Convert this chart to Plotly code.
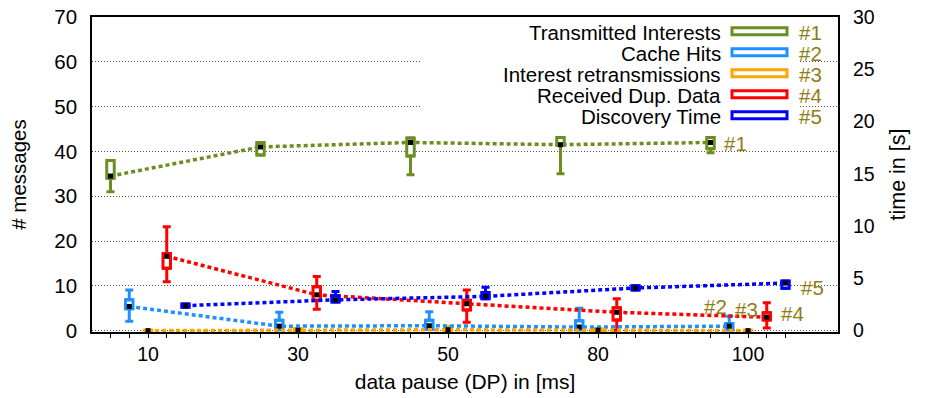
import plotly.graph_objects as go

# ---------------- data ----------------
dp_labels = ["10", "30", "50", "80", "100"]
series_names = ["Transmitted Interests", "Cache Hits", "Interest retransmissions",
                "Received Dup. Data", "Discovery Time"]
series_tags = ["#1", "#2", "#3", "#4", "#5"]
series_colors = ["#6b8e23", "#1e90ff", "#ffa500", "#ff0000", "#0000ff"]

# Transmitted Interests (# messages)
ti_mean = [34.5, 41.0, 42.0, 41.5, 42.0]
ti_box_lo = [34.0, 39.2, 39.0, 41.4, 40.6]
ti_box_hi = [38.0, 42.0, 43.0, 43.1, 43.1]
ti_wh_lo = [31.0, 39.2, 34.8, 35.0, 39.7]
ti_wh_hi = [38.0, 42.0, 43.0, 43.1, 43.1]

# Cache Hits (# messages)
ch_mean = [5.4, 1.0, 1.1, 0.8, 1.0]
ch_box_lo = [4.9, 0.2, 0.3, 0.2, 0.2]
ch_box_hi = [6.9, 2.3, 2.3, 2.2, 1.6]
ch_wh_lo = [2.1, 0.2, 0.3, 0.2, 0.2]
ch_wh_hi = [9.1, 4.1, 4.2, 5.0, 3.2]

# Interest retransmissions (# messages)
ir_mean = [0.0, 0.1, 0.2, 0.1, 0.0]
ir_box_lo = [0.0, 0.0, 0.0, 0.0, 0.0]
ir_box_hi = [0.1, 0.4, 0.9, 0.4, 0.1]
ir_wh_lo = [0.0, 0.0, 0.0, 0.0, 0.0]
ir_wh_hi = [0.1, 0.4, 0.9, 0.4, 0.1]

# Received Dup. Data (# messages)
rd_mean = [16.6, 8.0, 6.0, 4.1, 3.0]
rd_box_lo = [13.9, 6.8, 4.6, 2.4, 2.4]
rd_box_hi = [17.2, 9.8, 6.8, 5.1, 4.0]
rd_wh_lo = [10.9, 4.8, 1.9, 0.1, 0.6]
rd_wh_hi = [23.2, 12.1, 9.1, 7.1, 6.2]

# Discovery Time (s, right axis)
dt_mean = [2.39, 2.95, 3.28, 4.08, 4.55]
dt_box_lo = [2.25, 2.75, 3.05, 3.9, 4.05]
dt_box_hi = [2.55, 3.35, 3.65, 4.3, 4.75]
dt_wh_lo = [2.25, 2.75, 3.05, 3.9, 4.05]
dt_wh_hi = [2.55, 3.75, 4.14, 4.3, 4.75]

means = [ti_mean, ch_mean, ir_mean, rd_mean, dt_mean]
box_los = [ti_box_lo, ch_box_lo, ir_box_lo, rd_box_lo, dt_box_lo]
box_his = [ti_box_hi, ch_box_hi, ir_box_hi, rd_box_hi, dt_box_hi]
wh_los = [ti_wh_lo, ch_wh_lo, ir_wh_lo, rd_wh_lo, dt_wh_lo]
wh_his = [ti_wh_hi, ch_wh_hi, ir_wh_hi, rd_wh_hi, dt_wh_hi]

# ---------------- layout geometry ----------------
W, H = 925, 398
PL, PR, PT, PB = 92, 838, 17, 332.3  # plot area in px
Y_BELOW = 0.3      # small headroom below 0 so lines at 0 stay visible
SERIES_STEP = 0.125
FONT = "Liberation Sans, Arial, sans-serif"
FS = 20.5
TAG_COLOR = "#8f7d16"


def px2paper_x(px):
    return (px - PL) / (PR - PL)


def px2paper_y(py):
    return (PB - py) / (PB - PT)


n_groups = len(dp_labels)
n_series = len(series_names)


def xpos(k):
    return [g + (k - 2) * SERIES_STEP for g in range(n_groups)]


fig = go.Figure()

for k in range(n_series):
    xs = xpos(k)
    yaxis = "y2" if k == 4 else "y"
    col = series_colors[k]
    # boxes
    fig.add_trace(go.Bar(
        x=xs, base=box_los[k],
        y=[h - l for h, l in zip(box_his[k], box_los[k])],
        width=0.05, yaxis=yaxis,
        marker=dict(color="white", line=dict(color=col, width=3)),
        showlegend=False, hoverinfo="skip",
    ))
    # upper whiskers
    fig.add_trace(go.Scatter(
        x=xs, y=box_his[k], yaxis=yaxis, mode="markers",
        marker=dict(size=1, color="rgba(0,0,0,0)"),
        error_y=dict(type="data", symmetric=False,
                     array=[w - b for w, b in zip(wh_his[k], box_his[k])],
                     arrayminus=[0] * n_groups,
                     color=col, thickness=3, width=4),
        showlegend=False, hoverinfo="skip",
    ))
    # lower whiskers
    fig.add_trace(go.Scatter(
        x=xs, y=box_los[k], yaxis=yaxis, mode="markers",
        marker=dict(size=1, color="rgba(0,0,0,0)"),
        error_y=dict(type="data", symmetric=False,
                     array=[0] * n_groups,
                     arrayminus=[b - w for b, w in zip(box_los[k], wh_los[k])],
                     color=col, thickness=3, width=4),
        showlegend=False, hoverinfo="skip",
    ))

for k in range(n_series):
    xs = xpos(k)
    yaxis = "y2" if k == 4 else "y"
    col = series_colors[k]
    fig.add_trace(go.Scatter(
        x=xs, y=means[k], yaxis=yaxis, mode="lines+markers",
        line=dict(color=col, width=3.5, dash="4px,3px"),
        marker=dict(symbol="square", size=5, color="black"),
        name=series_names[k], showlegend=False,
    ))

# tick positions: one per series per group, labels only at group centre
tickvals, ticktext = [], []
for g in range(n_groups):
    for k in range(n_series):
        tickvals.append(g + (k - 2) * SERIES_STEP)
        ticktext.append(dp_labels[g] if k == 2 else "")

x_lo = (PL - 148) / 150
x_hi = (PR - 148) / 150

fig.update_layout(
    width=W, height=H,
    margin=dict(l=PL, r=W - PR, t=PT, b=H - PB, autoexpand=False),
    paper_bgcolor="white", plot_bgcolor="white",
    barmode="overlay",
    font=dict(family=FONT, size=FS, color="black"),
    xaxis=dict(
        range=[x_lo, x_hi], tickvals=tickvals, ticktext=ticktext,
        ticks="outside", ticklen=4, tickwidth=1, tickcolor="black",
        showline=True, linecolor="black", linewidth=1.5, mirror=True,
        showgrid=False, zeroline=False, automargin=False,
        title=dict(text="data pause (DP) in [ms]", standoff=10,
                   font=dict(size=21)),
        tickfont=dict(size=FS - 1),
    ),
    yaxis=dict(
        range=[-Y_BELOW, 70], tick0=0, dtick=10, showline=True,
        linecolor="black", linewidth=1.5, mirror=True, ticks="",
        ticklabelstandoff=9,
        showgrid=True, gridcolor="#555", griddash="1px,2px", gridwidth=1,
        zeroline=False, automargin=False,
        title=dict(text="# messages", standoff=22, font=dict(size=20.5)),
        tickfont=dict(size=FS),
    ),
    yaxis2=dict(
        range=[-Y_BELOW * 30 / 70, 30], tick0=0, dtick=5, overlaying="y",
        side="right",
        showgrid=False, zeroline=False, showline=False, ticks="",
        ticklabelstandoff=14, automargin=False,
        title=dict(text="time in [s]", standoff=16, font=dict(size=21.5)),
        tickfont=dict(size=FS - 1),
    ),
)

# white area behind legend
shapes = [dict(type="rect", xref="paper", yref="paper",
               x0=px2paper_x(420), x1=px2paper_x(799),
               y0=px2paper_y(126), y1=px2paper_y(18.5),
               fillcolor="white", line=dict(width=0), layer="above")]
annotations = []
row_y = [31.3, 52.3, 73.3, 94.3, 115.3]
for k in range(n_series):
    yc = row_y[k]
    annotations.append(dict(
        xref="paper", yref="paper", x=px2paper_x(723), y=px2paper_y(yc + 1),
        xanchor="right", yanchor="middle", text=series_names[k],
        showarrow=False, font=dict(size=FS, color="black")))
    shapes.append(dict(
        type="rect", xref="paper", yref="paper",
        x0=px2paper_x(732), x1=px2paper_x(787),
        y0=px2paper_y(yc + 3.5), y1=px2paper_y(yc - 3.5),
        fillcolor="white", line=dict(color=series_colors[k], width=3),
        layer="above"))
    annotations.append(dict(
        xref="paper", yref="paper", x=px2paper_x(797), y=px2paper_y(yc + 1),
        xanchor="left", yanchor="middle", text=series_tags[k],
        showarrow=False, font=dict(size=FS, color=TAG_COLOR)))

# end-of-series tags (dx, dy in px; dy positive = downwards)
tag_offsets = [(11, 1, "left"), (0, -20, "right"), (-2, -21, "center"),
               (12, -4, "left"), (13, 4, "left")]
for k in range(n_series):
    dx, dy, anchor = tag_offsets[k]
    annotations.append(dict(
        xref="x", yref="y2" if k == 4 else "y",
        x=xpos(k)[-1], y=means[k][-1],
        xanchor=anchor, yanchor="middle", xshift=dx, yshift=-dy,
        text=series_tags[k], showarrow=False,
        font=dict(size=FS, color=TAG_COLOR)))

fig.update_layout(shapes=shapes, annotations=annotations)
fig.write_html("out.html")
